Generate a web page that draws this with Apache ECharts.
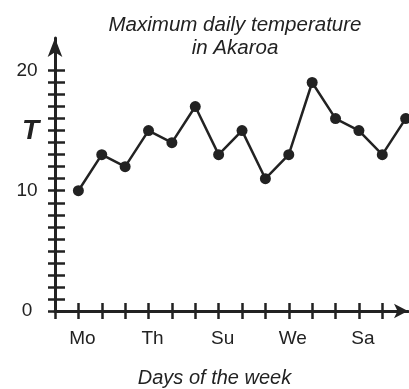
<!DOCTYPE html>
<html>
<head>
<meta charset="utf-8">
<script src="https://cdn.jsdelivr.net/npm/echarts@6/dist/echarts.min.js"></script>
<style>html,body{margin:0;padding:0;background:#fff}#c{width:409px;height:389px}</style>
</head>
<body>
<div id="c"></div>
<script>
// Data
var days = ['Mo','Tu','We','Th','Fr','Sa','Su','Mo','Tu','We','Th','Fr','Sa','Su','Mo'];
var temps = [10, 13, 12, 15, 14, 17, 13, 15, 11, 13, 19, 16, 15, 13, 16];
var labelDayPositions = [1, 4, 7, 10, 13];
var yTickLabels = [0, 10, 20];
var titleText = 'Maximum daily temperature\nin Akaroa';
var xName = 'Days of the week';
var yName = 'T';

var yTicks = [];
for (var i = 0; i <= 20; i++) yTicks.push(i);
var xTicks = [];
for (var j = 0; j <= 14; j++) xTicks.push(j);

var INK = '#222';
var FONT = '"Liberation Sans", Arial, sans-serif';

var chart = echarts.init(document.getElementById('c'), null, {renderer: 'canvas'});
chart.setOption({
  animation: false,
  backgroundColor: '#fff',
  title: [{
    text: titleText,
    left: 230,
    top: 9,
    textAlign: 'center',
    textStyle: {fontFamily: FONT, fontSize: 20.5, fontStyle: 'italic', fontWeight: 'normal', color: INK, lineHeight: 23}
  }, {
    text: yName,
    left: 17,
    top: 112,
    textStyle: {fontFamily: FONT, fontSize: 28, fontStyle: 'italic', fontWeight: 'bold', color: INK}
  }],
  grid: {left: 55, right: 1, top: 38, bottom: 78, outerBoundsMode: 'none', containLabel: false},
  xAxis: [{
    type: 'value', min: 0, max: 15.1,
    axisLine: {show: true, lineStyle: {color: INK, width: 3}, symbol: ['none', 'arrow'], symbolSize: [11, 14]},
    axisTick: {show: true, customValues: xTicks, length: 8, lineStyle: {color: INK, width: 2.5}},
    axisLabel: {show: true, customValues: labelDayPositions, margin: 18,
      formatter: function (v) { return days[Math.round(v) - 1]; },
      fontFamily: FONT, fontSize: 19, color: INK, padding: [0, 0, 0, 8]},
    splitLine: {show: false},
    name: xName, nameLocation: 'middle', nameGap: 57,
    nameTextStyle: {fontFamily: FONT, fontSize: 20, fontStyle: 'italic', color: INK, padding: [0, 34, 0, 0]}
  }, {
    type: 'value', min: 0, max: 15.1, position: 'bottom', offset: 0,
    axisLine: {show: false},
    axisTick: {show: true, inside: true, customValues: xTicks, length: 8, lineStyle: {color: INK, width: 2.5}},
    axisLabel: {show: false}, splitLine: {show: false}
  }],
  yAxis: [{
    type: 'value', min: 0, max: 22.7, position: 'left',
    axisLine: {show: true, lineStyle: {color: INK, width: 3}, symbol: ['none', 'arrow'], symbolSize: [11, 19]},
    axisTick: {show: true, customValues: yTicks, length: 7, lineStyle: {color: INK, width: 2.5}},
    axisLabel: {show: true, customValues: yTickLabels, margin: 28, align: 'center',
      fontFamily: FONT, fontSize: 19, color: INK},
    splitLine: {show: false}
  }, {
    type: 'value', min: 0, max: 22.7, position: 'left', offset: 0,
    axisLine: {show: false},
    axisTick: {show: true, inside: true, customValues: yTicks, length: 10, lineStyle: {color: INK, width: 2.5}},
    axisLabel: {show: false}, splitLine: {show: false}
  }],
  series: [{
    type: 'line',
    xAxisIndex: 0, yAxisIndex: 0,
    data: temps.map(function (t, i) { return [i + 1, t]; }),
    clip: false,
    symbol: 'circle', symbolSize: 11,
    lineStyle: {color: INK, width: 2.5},
    itemStyle: {color: INK},
    z: 5
  }]
});
</script>
</body>
</html>
